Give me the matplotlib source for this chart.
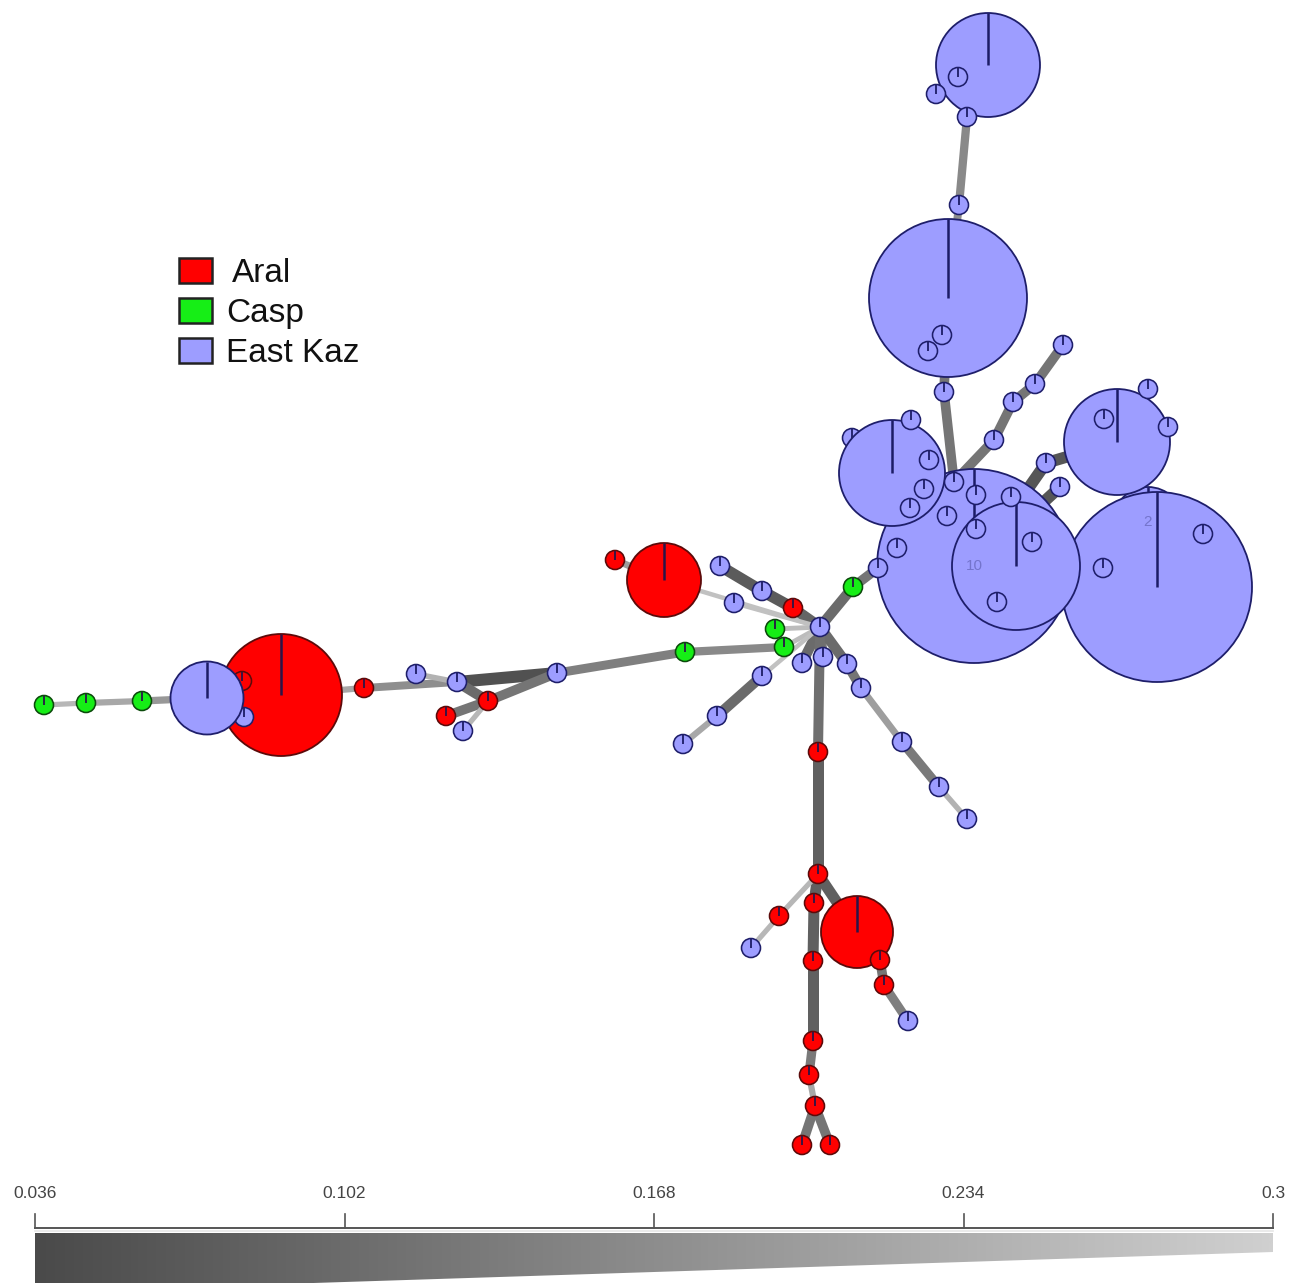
import numpy as np
import matplotlib
matplotlib.use("Agg")
import matplotlib.pyplot as plt
from matplotlib.patches import Circle, Rectangle, Polygon
from matplotlib.collections import LineCollection
from matplotlib.colors import LinearSegmentedColormap, Normalize

plt.rcParams["font.family"] = ["Liberation Sans", "DejaVu Sans"]

# ---------------- haplotype network data ----------------
groups = ["Aral", "Casp", "East Kaz"]
group_fill = {"Aral": "#ff0000", "Casp": "#16ee16", "East Kaz": "#9d9dff"}
group_edge = {"Aral": "#5c0a0a", "Casp": "#0b4a0b", "East Kaz": "#1e1e6a"}

# layout positions (x, y), node radius and population of each haplotype
node_x = [988, 948, 892, 974, 1016, 1157, 1117, 1148,
          44, 86, 142, 207, 281, 242, 244, 364, 416, 457, 488, 446, 463, 557, 685,
          664, 615, 720, 762, 793, 734, 820, 775, 784, 802, 823, 847, 861, 902, 939, 967,
          762, 717, 683, 818, 818, 814, 779, 751, 813, 857, 880, 884, 908, 813, 809, 815,
          802, 830, 853, 878,
          958, 936, 967, 959, 942, 928, 944, 1063, 1035, 1013, 994, 1046, 1060, 1148, 1168,
          1104, 911, 852, 929, 924, 910, 954, 976, 1011, 947, 976, 1032, 897, 997, 1103, 1203]
node_y = [65, 298, 473, 566, 566, 587, 442, 522,
          705, 703, 701, 698, 695, 681, 717, 688, 674, 682, 701, 716, 731, 673, 652,
          580, 560, 566, 591, 608, 603, 627, 629, 647, 663, 657, 664, 688, 742, 787, 819,
          676, 716, 744, 752, 874, 903, 916, 948, 961, 932, 960, 985, 1021, 1041, 1075, 1106,
          1145, 1145, 587, 568,
          77, 94, 117, 205, 335, 351, 392, 345, 384, 402, 440, 463, 487, 389, 427,
          419, 420, 438, 460, 489, 508, 482, 495, 497, 516, 529, 542, 548, 602, 568, 534]
node_radius = [52, 79, 53, 97, 64, 95, 53, 35,
               9.5, 9.5, 9.5, 36.5, 61, 9.5, 9.5, 9.5, 9.5, 9.5, 9.5, 9.5, 9.5, 9.5, 9.5,
               37, 9.5, 9.5, 9.5, 9.5, 9.5, 9.5, 9.5, 9.5, 9.5, 9.5, 9.5, 9.5, 9.5, 9.5, 9.5,
               9.5, 9.5, 9.5, 9.5, 9.5, 9.5, 9.5, 9.5, 9.5, 36, 9.5, 9.5, 9.5, 9.5, 9.5, 9.5,
               9.5, 9.5, 9.5, 9.5,
               9.5, 9.5, 9.5, 9.5, 9.5, 9.5, 9.5, 9.5, 9.5, 9.5, 9.5, 9.5, 9.5, 9.5, 9.5,
               9.5, 9.5, 9.5, 9.5, 9.5, 9.5, 9.5, 9.5, 9.5, 9.5, 9.5, 9.5, 9.5, 9.5, 9.5, 9.5]
# population codes per node: A = Aral, C = Casp, E = East Kaz
node_code = ("EEEEEEEE"
             "CCCEAAEAEEAAEEC"
             "AAEEAEECCEEEEEEE"
             "EEEAAAAEAAAAEAAA"
             "AACE"
             "EEEEEEEEEEEEEEE"
             "EEEEEEEEEEEEEEEE")
code_name = {"A": "Aral", "C": "Casp", "E": "East Kaz"}
node_group = [code_name[c] for c in node_code]
E = "East Kaz"

# haplotype counts printed on nodes
node_labels = {3: "10", 7: "2"}

# links: (node a, node b, genetic distance)
links = [
    (8, 9, 0.25), (9, 10, 0.22), (10, 11, 0.19), (11, 12, 0.15), (11, 14, 0.20),
    (12, 13, 0.20), (12, 15, 0.22), (15, 17, 0.17), (16, 17, 0.24), (17, 21, 0.05),
    (17, 18, 0.10), (18, 21, 0.12), (18, 19, 0.12), (18, 20, 0.25), (21, 22, 0.14),
    (22, 31, 0.16), (31, 29, 0.26), (30, 29, 0.26), (23, 24, 0.20), (23, 29, 0.27),
    (25, 26, 0.07), (26, 27, 0.07), (27, 29, 0.09), (28, 29, 0.27), (29, 32, 0.10),
    (29, 33, 0.12), (29, 34, 0.10), (34, 35, 0.12), (35, 36, 0.20), (36, 37, 0.13),
    (37, 38, 0.24), (29, 39, 0.27), (39, 40, 0.10), (40, 41, 0.22), (29, 42, 0.11),
    (42, 43, 0.08), (43, 44, 0.08), (44, 47, 0.08), (47, 52, 0.08), (52, 53, 0.13),
    (53, 54, 0.22), (54, 55, 0.12), (54, 56, 0.12), (43, 45, 0.25), (45, 46, 0.25),
    (43, 48, 0.08), (48, 49, 0.12), (49, 50, 0.12), (50, 51, 0.14), (29, 57, 0.10),
    (57, 58, 0.12), (58, 3, 0.12),
    (80, 65, 0.12), (65, 1, 0.12), (1, 62, 0.17), (62, 61, 0.16), (61, 0, 0.20),
    (0, 59, 0.20), (0, 60, 0.20), (1, 63, 0.20), (1, 64, 0.20), (80, 69, 0.12),
    (69, 68, 0.12), (68, 67, 0.12), (67, 66, 0.12), (3, 70, 0.06), (70, 6, 0.06),
    (3, 71, 0.06), (3, 5, 0.05), (5, 7, 0.05), (6, 72, 0.20), (6, 73, 0.20),
    (6, 74, 0.20), (3, 2, 0.10), (2, 75, 0.20), (2, 76, 0.20), (2, 77, 0.20),
    (2, 78, 0.20), (2, 79, 0.20), (3, 80, 0.20), (3, 81, 0.20), (3, 82, 0.20),
    (3, 83, 0.20), (3, 84, 0.20), (3, 86, 0.20), (3, 4, 0.10), (4, 85, 0.20),
    (4, 87, 0.20), (5, 88, 0.20), (5, 89, 0.20),
]

# stacking order (bottom to top) for nodes that overlap; all others go on top
stack_order = [3, 7, 5, 6, 76, 2, 4, 0, 1, 12, 13, 14, 11, 23, 48]

scale_ticks = [0.036, 0.102, 0.168, 0.234, 0.3]

# ---------------- drawing ----------------
W, H = 1291, 1283
fig = plt.figure(figsize=(W / 100, H / 100), dpi=100)
ax = fig.add_axes([0, 0, 1, 1])
ax.set_xlim(0, W)
ax.set_ylim(H, 0)
ax.axis("off")

vmin, vmax = scale_ticks[0], scale_ticks[-1]
norm = Normalize(vmin, vmax)
cmap = LinearSegmentedColormap.from_list("dist", ["#4a4a4a", "#d0d0d0"])


def width_px(v):
    t = norm(v)
    return 12.5 - 9.0 * t


segs, cols, lws = [], [], []
for a, b, v in links:
    segs.append([(node_x[a], node_y[a]), (node_x[b], node_y[b])])
    cols.append(cmap(norm(v)))
    lws.append(width_px(v) * 0.72)
ax.add_collection(LineCollection(segs, colors=cols, linewidths=lws,
                                 capstyle="butt", zorder=1))


def draw_node(i, z):
    g = node_group[i]
    r = node_radius[i]
    big = r > 20
    ax.add_patch(Circle((node_x[i], node_y[i]), r, facecolor=group_fill[g],
                        edgecolor=group_edge[g], lw=1.3 if big else 1.15, zorder=z))
    ax.plot([node_x[i], node_x[i]], [node_y[i] - r, node_y[i]],
            color="#1c1c66" if g == E else "#2a1448",
            lw=1.8 if big else 1.3, zorder=z + 0.01, solid_capstyle="butt")


z = 3
for i in stack_order:
    draw_node(i, z)
    z += 0.1
z = 5
for i in range(len(node_x)):
    if i in stack_order:
        continue
    draw_node(i, z)
    z += 0.02

for i, txt in node_labels.items():
    ax.text(node_x[i], node_y[i], txt, ha="center", va="center", fontsize=11,
            color="#7474cc", zorder=8)

# legend
for k, g in enumerate(groups):
    yc = 270 + 40 * k
    ax.add_patch(Rectangle((179, yc - 12.5), 33, 25, facecolor=group_fill[g],
                           edgecolor="#222222", lw=1.8, zorder=9))
    ax.text(226 + (6 if k == 0 else 0), yc + 12, g, fontsize=24, color="#111111",
            ha="left", va="baseline", zorder=9)

# distance scale bar
x0, x1 = 35, 1273


def sx(v):
    return x0 + (v - vmin) / (vmax - vmin) * (x1 - x0)


grad = np.linspace(0, 1, 512)[None, :]
img = ax.imshow(grad, cmap=cmap, extent=[x0, x1, 1292, 1233], aspect="auto",
                zorder=6, interpolation="bilinear")
wedge = Polygon([(x0, 1233), (x1, 1233), (x1, 1252), (x0, 1292)], closed=True,
                facecolor="none", edgecolor="none", transform=ax.transData)
ax.add_patch(wedge)
img.set_clip_path(wedge)
ax.set_xlim(0, W)
ax.set_ylim(H, 0)

ax.plot([x0, x1], [1228, 1228], color="#555555", lw=1.4, zorder=7)
ax.plot([x0, x1], [1230.5, 1230.5], color="#e6e6e6", lw=1.2, zorder=7)
for v in scale_ticks:
    ax.plot([sx(v), sx(v)], [1214, 1228], color="#555555", lw=1.2, zorder=7)
    ax.text(sx(v), 1193, f"{v:g}", ha="center", va="center", fontsize=12.5,
            color="#444444", zorder=7)

fig.savefig("out.png", dpi=100, facecolor="white")
